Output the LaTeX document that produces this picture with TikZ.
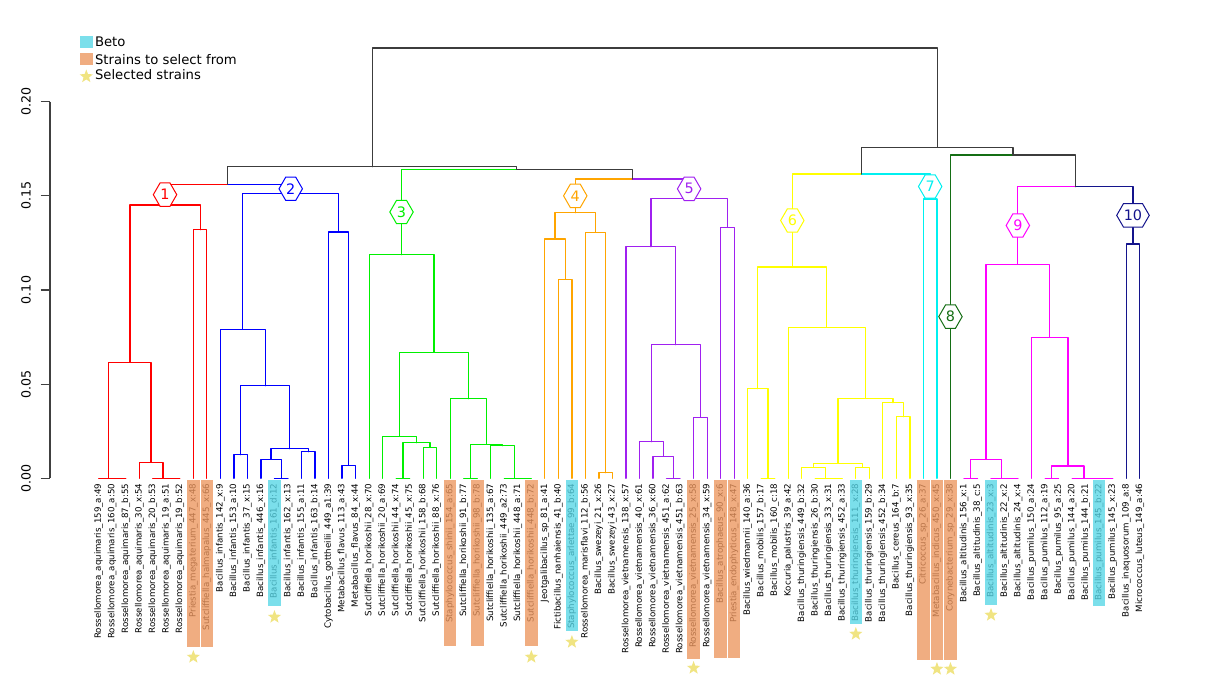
\documentclass[tikz,border=0pt]{standalone}
\usepackage{fontspec}
\setmainfont{DejaVu Sans}
\usetikzlibrary{calc,shapes.geometric,shapes.symbols}
\definecolor{cR}{RGB}{255,0,0}
\definecolor{cB}{RGB}{0,0,255}
\definecolor{cG}{RGB}{0,240,0}
\definecolor{cO}{RGB}{255,165,0}
\definecolor{cP}{RGB}{160,32,240}
\definecolor{cY}{RGB}{255,255,0}
\definecolor{cC}{RGB}{0,240,240}
\definecolor{cDG}{RGB}{20,110,20}
\definecolor{cM}{RGB}{255,0,255}
\definecolor{cN}{RGB}{20,20,140}
\definecolor{cK}{RGB}{60,60,60}
\definecolor{orbase}{RGB}{236,150,94}
\definecolor{cybase}{RGB}{86,214,230}
\definecolor{khaki}{RGB}{240,228,130}
\tikzset{
  tr/.style={line width=0.9pt,line cap=round,line join=round},
  lab/.style={rotate=90,anchor=east,inner sep=0pt,font=\fontsize{6.5}{7}\selectfont},
  orb/.style={fill=orbase,fill opacity=0.78},
  cyb/.style={fill=cybase,fill opacity=0.78},
  strr/.style={star,star points=5,star point ratio=2.4,fill=khaki,draw=none,inner sep=0pt,minimum size=10.5pt},
  hex/.style={shape=signal,signal to=east and west,signal pointer angle=120,draw=#1,fill=white,text=#1,
     line width=0.75pt,inner xsep=0.3pt,inner ysep=0pt,minimum height=17.5pt,font=\fontsize{10.8}{12}\selectfont},
  ax/.style={line width=0.85pt,draw=black!75},
  tickl/.style={rotate=90,font=\fontsize{9.45}{11}\selectfont},
  leg/.style={anchor=west,inner sep=0pt,font=\fontsize{9.9}{11}\selectfont}
}
\newcommand\mrg[6]{%
  \path ($(#2)!0.5!(#3)$) coordinate (#1m);
  \coordinate (#1) at (#1m |- 0,#4);
  \draw[tr,#5] (#1) -| (#2);
  \draw[tr,#6] (#1) -| (#3);
}
\newcommand\hlb[3]{\fill[#2] (L#1) ++(-6.25,1.7) rectangle ++(12.5,#3);}
\newcommand\stmark[2]{\node[strr] (s#1) at ($(L#1)+(0,#2)$) {};}
\begin{document}
\begin{tikzpicture}[x=0.75pt,y=-0.75pt]
\useasboundingbox (0,0) rectangle (1210,681);
\foreach \i in {1,...,78}{\coordinate (L\i) at ({98.7+13.52*(\i-1)},478.3);}
% cluster 1
\mrg{a1}{L2}{L3}{478.3}{cR}{cR}
\mrg{a2}{L1}{a1}{478.3}{cR}{cR}
\mrg{a3}{L6}{L7}{478.3}{cR}{cR}
\mrg{a4}{L5}{a3}{478.3}{cR}{cR}
\mrg{a5}{L4}{a4}{462.3}{cR}{cR}
\mrg{a6}{a2}{a5}{362.3}{cR}{cR}
\mrg{a7}{L8}{L9}{229.7}{cR}{cR}
\mrg{C1}{a6}{a7}{205}{cR}{cR}
% cluster 2
\mrg{b1}{L11}{L12}{454.7}{cB}{cB}
\mrg{b2}{L14}{L15}{478.3}{cB}{cB}
\mrg{b3}{L13}{b2}{459.3}{cB}{cB}
\mrg{b4}{L16}{L17}{451.7}{cB}{cB}
\mrg{b5}{b3}{b4}{448.7}{cB}{cB}
\mrg{b6}{b1}{b5}{385.7}{cB}{cB}
\mrg{b7}{L10}{b6}{329.3}{cB}{cB}
\mrg{b8}{L19}{L20}{465.3}{cB}{cB}
\mrg{b9}{L18}{b8}{232}{cB}{cB}
\mrg{C2}{b7}{b9}{193.3}{cB}{cB}
\mrg{N12}{C1}{C2}{184.3}{cR}{cB}
% cluster 3
\mrg{c1}{L23}{L24}{478.3}{cG}{cG}
\mrg{c2}{L25}{L26}{447.3}{cG}{cG}
\mrg{c3}{c1}{c2}{442.7}{cG}{cG}
\mrg{c4}{L22}{c3}{436.3}{cG}{cG}
\mrg{c5}{L28}{L29}{478.3}{cG}{cG}
\mrg{c6}{L32}{L33}{478.3}{cG}{cG}
\mrg{c7}{L31}{c6}{478.3}{cG}{cG}
\mrg{c8}{L30}{c7}{445.7}{cG}{cG}
\mrg{c9}{c5}{c8}{444.3}{cG}{cG}
\mrg{c10}{L27}{c9}{398.7}{cG}{cG}
\mrg{c11}{c4}{c10}{352.3}{cG}{cG}
\mrg{C3}{L21}{c11}{254.7}{cG}{cG}
% cluster 4
\mrg{d1}{L35}{L36}{279.3}{cO}{cO}
\mrg{d2}{L34}{d1}{239}{cO}{cO}
\mrg{d3}{L38}{L39}{472.7}{cO}{cO}
\mrg{d4}{L37}{d3}{232.3}{cO}{cO}
\mrg{C4}{d2}{d4}{212.7}{cO}{cO}
% cluster 5
\mrg{e1}{L43}{L44}{478.3}{cP}{cP}
\mrg{e2}{L42}{e1}{456.3}{cP}{cP}
\mrg{e3}{L41}{e2}{441.7}{cP}{cP}
\mrg{e4}{L45}{L46}{417.3}{cP}{cP}
\mrg{e5}{e3}{e4}{344.7}{cP}{cP}
\mrg{e6}{L40}{e5}{246.7}{cP}{cP}
\mrg{e7}{L47}{L48}{227.3}{cP}{cP}
\mrg{C5}{e6}{e7}{198.7}{cP}{cP}
\mrg{N45}{C4}{C5}{179}{cO}{cP}
\mrg{N345}{C3}{N45}{169.3}{cG}{cK}
\mrg{NL}{N12}{N345}{166.7}{cK}{cK}
% cluster 6
\mrg{f1}{L50}{L51}{478.3}{cY}{cY}
\mrg{f2}{L49}{f1}{388.7}{cY}{cY}
\mrg{f3}{L55}{L56}{478.3}{cY}{cY}
\mrg{f4}{L54}{f3}{478.3}{cY}{cY}
\mrg{f5}{L53}{f4}{467.3}{cY}{cY}
\mrg{f6}{L57}{L58}{467.3}{cY}{cY}
\mrg{f7}{f5}{f6}{463.3}{cY}{cY}
\mrg{f8}{L60}{L61}{416.7}{cY}{cY}
\mrg{f9}{L59}{f8}{402.7}{cY}{cY}
\mrg{f10}{f7}{f9}{398.3}{cY}{cY}
\mrg{f11}{L52}{f10}{327.3}{cY}{cY}
\mrg{C6}{f2}{f11}{267}{cY}{cY}
% cluster 7
\mrg{C7}{L62}{L63}{199}{cC}{cC}
\mrg{N67}{C6}{C7}{174}{cY}{cC}
% cluster 9
\mrg{g1}{L65}{L66}{478.3}{cM}{cM}
\mrg{g2}{L68}{L69}{478.3}{cM}{cM}
\mrg{g3}{L67}{g2}{478.3}{cM}{cM}
\mrg{g4}{g1}{g3}{459.3}{cM}{cM}
\mrg{g5}{L71}{L72}{478.3}{cM}{cM}
\mrg{g6}{L75}{L76}{478.3}{cM}{cM}
\mrg{g7}{L74}{g6}{478.3}{cM}{cM}
\mrg{g8}{L73}{g7}{478.3}{cM}{cM}
\mrg{g9}{g5}{g8}{466}{cM}{cM}
\mrg{g10}{L70}{g9}{337.3}{cM}{cM}
\mrg{C9}{g4}{g10}{264.3}{cM}{cM}
% cluster 10
\mrg{C10}{L77}{L78}{244}{cN}{cN}
\mrg{N910}{C9}{C10}{186.7}{cM}{cN}
\mrg{N8910}{L64}{N910}{155}{cDG}{cK}
\mrg{NR}{N67}{N8910}{147.3}{cK}{cK}
\mrg{ROOT}{NL}{NR}{48}{cK}{cK}
% leaf labels
\foreach \i/\t in {1/Rossellomorea\_aquimaris\_159\_a:49,2/Rossellomorea\_aquimaris\_160\_a:50,
3/Rossellomorea\_aquimaris\_87\_b:55,4/Rossellomorea\_aquimaris\_30\_x:54,5/Rossellomorea\_aquimaris\_20\_b:53,
6/Rossellomorea\_aquimaris\_19\_a:51,7/Rossellomorea\_aquimaris\_19\_b:52,8/Priestia\_megaterium\_447\_x:48,
9/Sutcliffiella\_halmapalus\_445\_x:66,10/Bacillus\_infantis\_142\_x:9,11/Bacillus\_infantis\_153\_a:10,
12/Bacillus\_infantis\_37\_x:15,13/Bacillus\_infantis\_446\_x:16,14/Bacillus\_infantis\_161\_d:12,
15/Bacillus\_infantis\_162\_x:13,16/Bacillus\_infantis\_155\_a:11,17/Bacillus\_infantis\_163\_b:14,
18/Cytobacillus\_gottheilii\_449\_a1:39,19/Metabacillus\_flavus\_113\_a:43,20/Metabacillus\_flavus\_84\_x:44,
21/Sutcliffiella\_horikoshii\_28\_x:70,22/Sutcliffiella\_horikoshii\_20\_a:69,23/Sutcliffiella\_horikoshii\_44\_x:74,
24/Sutcliffiella\_horikoshii\_45\_x:75,25/Sutcliffiella\_horikoshii\_158\_b:68,26/Sutcliffiella\_horikoshii\_88\_x:76,
27/Staphylococcus\_shinii\_154\_a:65,28/Sutcliffiella\_horikoshii\_91\_b:77,29/Sutcliffiella\_horikoshii\_98\_b:78,
30/Sutcliffiella\_horikoshii\_135\_a:67,31/Sutcliffiella\_horikoshii\_449\_a2:73,32/Sutcliffiella\_horikoshii\_448\_a:71,
33/Sutcliffiella\_horikoshii\_448\_b:72,34/Jeotgalibacillus\_sp\_81\_a:41,35/Fictibacillus\_nanhaiensis\_41\_b:40,
36/Staphylococcus\_arlettae\_99\_b:64,37/Rossellomorea\_marisflavi\_112\_b:56,38/Bacillus\_swezeyi\_21\_x:26,
39/Bacillus\_swezeyi\_43\_x:27,40/Rossellomorea\_vietnamensis\_138\_x:57,41/Rossellomorea\_vietnamensis\_40\_x:61,
42/Rossellomorea\_vietnamensis\_36\_x:60,43/Rossellomorea\_vietnamensis\_451\_a:62,44/Rossellomorea\_vietnamensis\_451\_b:63,
45/Rossellomorea\_vietnamensis\_25\_x:58,46/Rossellomorea\_vietnamensis\_34\_x:59,47/Bacillus\_atrophaeus\_90\_x:6,
48/Priestia\_endophyticus\_148\_x:47,49/Bacillus\_wiedmannii\_140\_a:36,50/Bacillus\_mobilis\_157\_b:17,
51/Bacillus\_mobilis\_160\_c:18,52/Kocuria\_palustris\_39\_a:42,53/Bacillus\_thuringiensis\_449\_b:32,
54/Bacillus\_thuringiensis\_26\_b:30,55/Bacillus\_thuringiensis\_33\_x:31,56/Bacillus\_thuringiensis\_452\_a:33,
57/Bacillus\_thuringiensis\_111\_x:28,58/Bacillus\_thuringiensis\_159\_b:29,59/Bacillus\_thuringiensis\_452\_b:34,
60/Bacillus\_cereus\_164\_b:7,61/Bacillus\_thuringiensis\_93\_x:35,62/Citricoccus\_sp\_26\_a:37,
63/Metabacillus\_indicus\_450\_x:45,64/Corynebacterium\_sp\_29\_x:38,65/Bacillus\_altitudinis\_156\_x:1,
66/Bacillus\_altitudinis\_38\_c:5,67/Bacillus\_altitudinis\_23\_x:3,68/Bacillus\_altitudinis\_22\_x:2,
69/Bacillus\_altitudinis\_24\_x:4,70/Bacillus\_pumilus\_150\_a:24,71/Bacillus\_pumilus\_112\_a:19,
72/Bacillus\_pumilus\_95\_a:25,73/Bacillus\_pumilus\_144\_a:20,74/Bacillus\_pumilus\_144\_b:21,
75/Bacillus\_pumilus\_145\_b:22,76/Bacillus\_pumilus\_145\_x:23,77/Bacillus\_inaquosorum\_109\_a:8,
78/Micrococcus\_luteus\_149\_a:46}{\node[lab] (t\i) at (L\i |- 0,483.5) {\t};}
% highlight boxes
\hlb{8}{orb}{167}\hlb{9}{orb}{167}\hlb{27}{orb}{166}\hlb{29}{orb}{166}\hlb{33}{orb}{166}
\hlb{45}{orb}{179}\hlb{47}{orb}{178}\hlb{48}{orb}{178}\hlb{62}{orb}{180}\hlb{63}{orb}{180}\hlb{64}{orb}{180}
\hlb{14}{cyb}{126}\hlb{36}{cyb}{151}\hlb{57}{cyb}{144}\hlb{67}{cyb}{125}\hlb{75}{cyb}{126}
% stars
\stmark{8}{178.7}\stmark{14}{138.7}\stmark{33}{178.7}\stmark{36}{163.7}\stmark{45}{189.7}
\stmark{57}{155.7}\stmark{63}{190.7}\stmark{64}{190.7}\stmark{67}{136.7}
% cluster labels
\node[hex=cR] (h1) at ($(C1)!0.5!(C1 |- N12)$) {1};
\node[hex=cB] (h2) at ($(C2)!0.5!(C2 |- N12)$) {2};
\node[hex=cG] (h3) at ($(C3)!0.5!(C3 |- N345)$) {3};
\node[hex=cO] (h4) at ($(C4)!0.5!(C4 |- N45)$) {4};
\node[hex=cP] (h5) at ($(C5)!0.5!(C5 |- N45)$) {5};
\node[hex=cY] (h6) at ($(C6)!0.5!(C6 |- N67)$) {6};
\node[hex=cC] (h7) at ($(C7)!0.5!(C7 |- N67)$) {7};
\node[hex=cDG] (h8) at ($(L64)!0.5!(L64 |- N8910)$) {8};
\node[hex=cM] (h9) at ($(C9)!0.5!(C9 |- N910)$) {9};
\node[hex=cN] (h10) at ($(C10)!0.5!(C10 |- N910)$) {10};
% axis
\draw[ax] (50,101.7) -- (50,478.3);
\foreach \yy/\t [count=\k] in {478.3/0.00,384.15/0.05,290/0.10,195.85/0.15,101.7/0.20}{
  \draw[ax] (40.7,\yy) -- (50,\yy);
  \node[tickl] (tk\k) at (26,\yy) {\t};
}
% legend
\fill[cyb] (80,35.7) rectangle (92.7,48.3);
\node[leg] (lg1) at (94.8,42) {Beto};
\fill[orb] (80,53.3) rectangle (92.7,65);
\node[leg] (lg2) at (94.8,59.2) {Strains to select from};
\node[strr] (lgs) at (86.3,76.5) {};
\node[leg] (lg3) at (94.8,74.5) {Selected strains};
\end{tikzpicture}
\end{document}
